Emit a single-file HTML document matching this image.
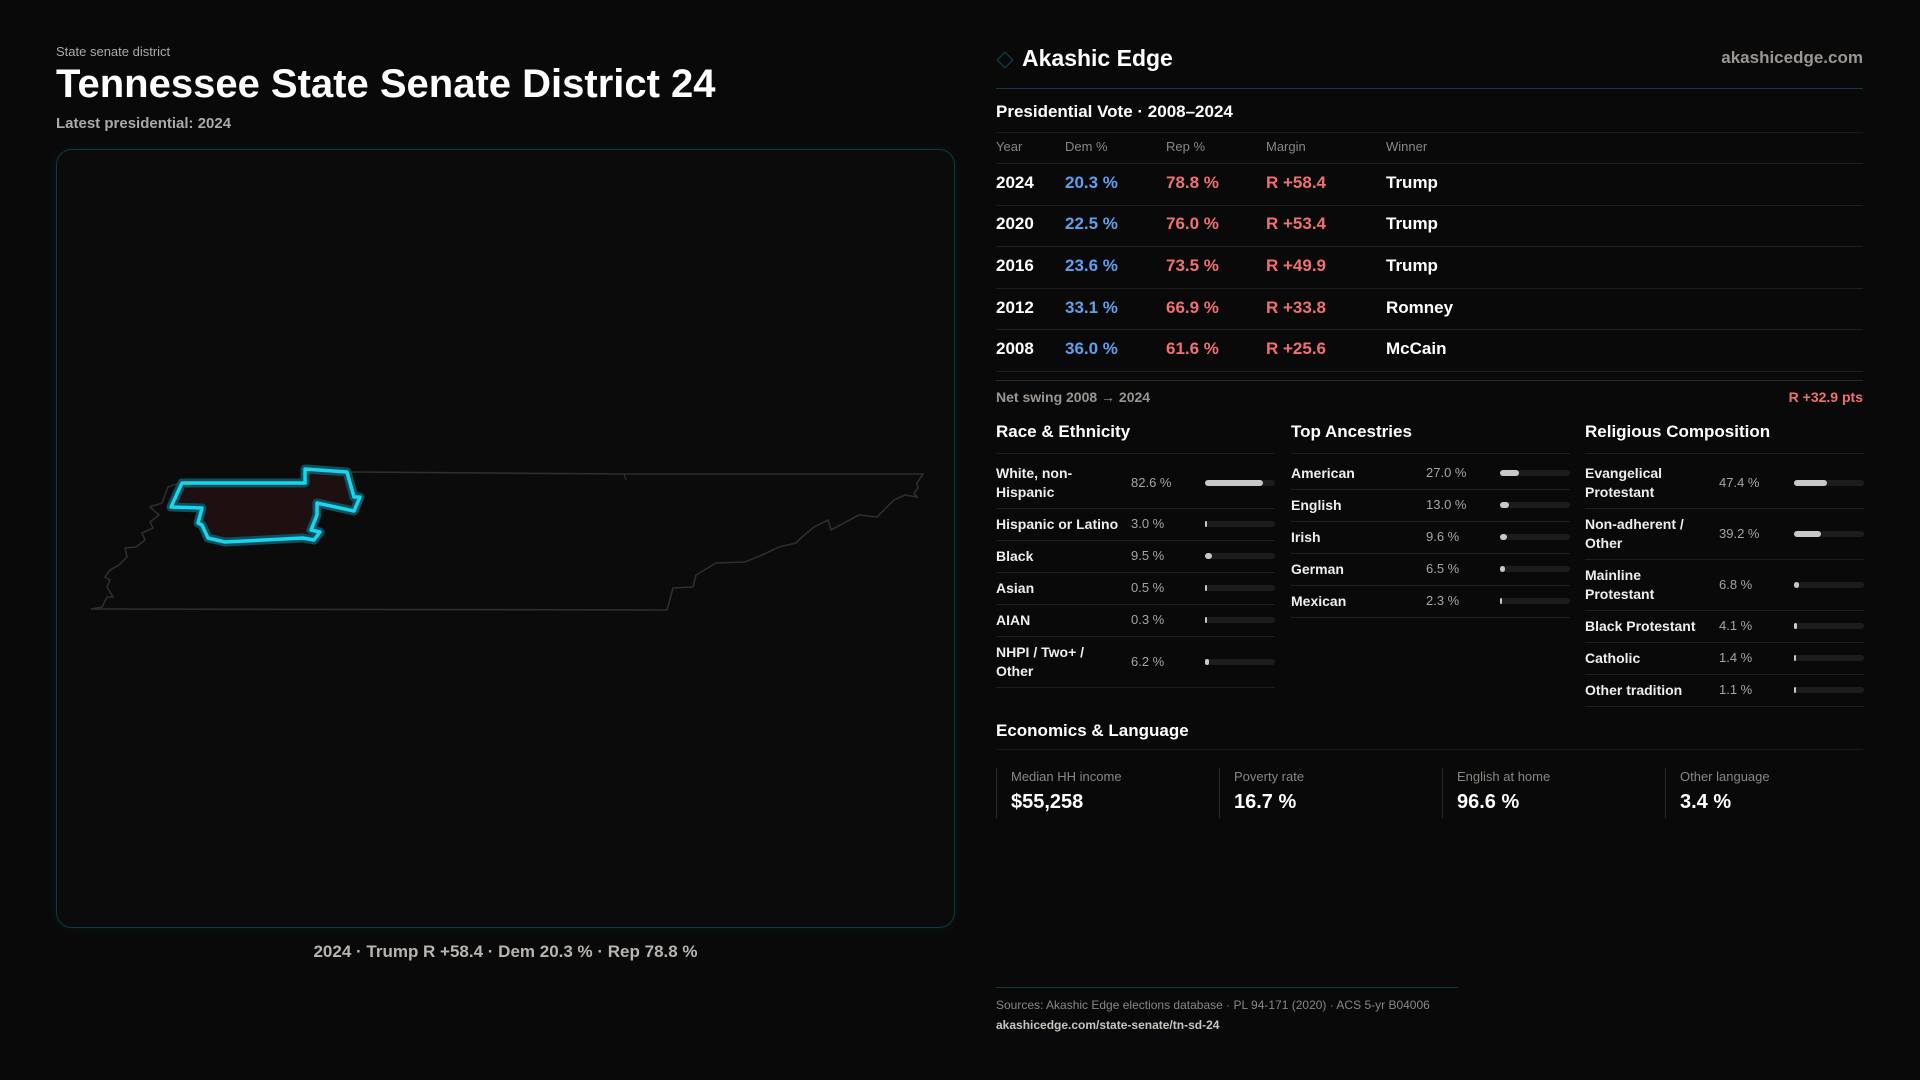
<!DOCTYPE html>
<html><head><meta charset="utf-8"><style>
*{margin:0;padding:0;box-sizing:border-box}
body{width:1920px;height:1080px;background:#0a0909;font-family:"Liberation Sans",sans-serif;color:#f0f0f0;position:relative;overflow:hidden}
.a{position:absolute;white-space:nowrap}
.hl{position:absolute;height:1px;background:#222}
.lbl{font-size:14px;font-weight:bold;color:#eee;line-height:19px}
.val{font-size:13px;color:#a8a4a0}
.track{position:absolute;height:6px;background:#1c1c1e;border-radius:3px}
.fill{position:absolute;left:0;top:0;height:6px;background:#c8c8c8;border-radius:3px}
</style></head><body>
<div class="a" style="left:56px;top:44px;font-size:13px;color:#aaa">State senate district</div>
<div class="a" style="left:56px;top:62px;font-size:40px;font-weight:bold;color:#fff">Tennessee State Senate District 24</div>
<div class="a" style="left:56px;top:115px;font-size:15px;font-weight:bold;color:#aaa">Latest presidential: 2024</div>

<div class="a" style="left:56px;top:149px;width:899px;height:779px;border:1px solid #0f3b42;border-radius:16px;background:#0c0b0b;box-shadow:0 0 10px rgba(0,200,230,0.08)"></div>
<svg class="a" style="left:0;top:0" width="960" height="940">
<polyline fill="none" stroke="#2e2e2e" stroke-width="1.6" points="182,483 173,485 168,487 162,503 150,507 159,515 150,522 153,528 142,533 145,540 136,547 125,548 127,557 119,565 110,570 105,577 110,580 107,587 113,597 107,597 102,607 91,609 667,610 673,588 693,587 696,575 716,563 745,562 762,555 779,547 796,543 802,537 814,527 828,520 831,530 859,515 877,517 894,500 905,495 917,497 914,493 918,488 917,483 923,474 624,474 351,472"/>
<line x1="624" y1="474" x2="626" y2="480" stroke="#2e2e2e" stroke-width="1.4"/>
<polygon fill="#1e1010" stroke="#0d4f5a" stroke-width="9" stroke-linejoin="round" points="182,483 305,483 305,469 347,472 354,497 360,497 354,511 317,503 317,515 311,530 320,532 314,540 303,538 225,542 208,538 202,525 198,523 202,508 171,507"/>
<polygon fill="none" stroke="#19d6f0" stroke-width="3.5" stroke-linejoin="round" points="182,483 305,483 305,469 347,472 354,497 360,497 354,511 317,503 317,515 311,530 320,532 314,540 303,538 225,542 208,538 202,525 198,523 202,508 171,507"/>
</svg>
<div class="a" style="left:56px;width:899px;text-align:center;top:942px;font-size:17px;font-weight:bold;color:#b8b4b0">2024 · Trump R +58.4 · Dem 20.3 % · Rep 78.8 %</div>

<div class="a" style="left:999px;top:54px;width:12px;height:12px;border:1.5px solid #0d4f5a;transform:rotate(45deg)"></div>
<div class="a" style="left:1022px;top:45px;font-size:23px;font-weight:bold;color:#fff">Akashic Edge</div>
<div class="a" style="right:57px;top:48px;font-size:17px;font-weight:bold;color:#9a9692">akashicedge.com</div>
<div class="hl" style="left:996px;width:867px;top:88px;background:#0f3b42"></div>

<div class="a" style="left:996px;top:102px;font-size:17px;font-weight:bold;color:#fff">Presidential Vote · 2008–2024</div>
<div class="hl" style="left:996px;width:867px;top:132px;background:#1a1a1a"></div>
<div id="vtable"></div>
<div class="hl" style="left:996px;width:867px;top:380px;background:#2a2a2a"></div>
<div class="a" style="left:996px;top:389px;font-size:14px;font-weight:bold;color:#9a9692">Net swing 2008 → 2024</div>
<div class="a" style="right:57px;top:389px;font-size:14px;font-weight:bold;color:#f07070">R +32.9 pts</div>

<div id="sections"></div>

<div class="a" style="left:996px;top:721px;font-size:17px;font-weight:bold;color:#fff">Economics &amp; Language</div>
<div class="hl" style="left:996px;width:867px;top:749px;background:#1a1a1a"></div>
<div id="econ"></div>

<div class="hl" style="left:996px;width:462px;top:987px;background:#0f3b42"></div>
<div class="a" style="left:996px;top:998px;font-size:12px;color:#8a8682">Sources: Akashic Edge elections database · PL 94-171 (2020) · ACS 5-yr B04006</div>
<div class="a" style="left:996px;top:1018px;font-size:12px;font-weight:bold;color:#c8c4c0">akashicedge.com/state-senate/tn-sd-24</div>

<script>
const years=["2024","2020","2016","2012","2008"];
const demPct=[20.3,22.5,23.6,33.1,36.0];
const repPct=[78.8,76.0,73.5,66.9,61.6];
const margins=[58.4,53.4,49.9,33.8,25.6];
const winners=["Trump","Trump","Trump","Romney","McCain"];
const raceLabels=["White, non-\nHispanic","Hispanic or Latino","Black","Asian","AIAN","NHPI / Two+ /\nOther"];
const raceValues=[82.6,3.0,9.5,0.5,0.3,6.2];
const ancLabels=["American","English","Irish","German","Mexican"];
const ancValues=[27.0,13.0,9.6,6.5,2.3];
const relLabels=["Evangelical\nProtestant","Non-adherent /\nOther","Mainline\nProtestant","Black Protestant","Catholic","Other tradition"];
const relValues=[47.4,39.2,6.8,4.1,1.4,1.1];
const econLabels=["Median HH income","Poverty rate","English at home","Other language"];
const econValues=["$55,258","16.7 %","96.6 %","3.4 %"];

function mk(parent,cls,style,text){const d=document.createElement('div');d.className=cls;d.style.cssText=style;if(text!=null)d.textContent=text;parent.appendChild(d);return d;}
const vt=document.getElementById('vtable');
const colX=[996,1065,1166,1266,1386];
["Year","Dem %","Rep %","Margin","Winner"].forEach((h,i)=>{
  const e=mk(vt,'a',`left:${colX[i]}px;top:139px;font-size:13px;color:#8a8682`,h);
  
  
});
mk(vt,'hl','left:996px;width:867px;top:163px;background:#1e1e1e');
const rowH=41.6;
years.forEach((y,i)=>{
  const top=163+i*rowH;
  const cy=top+rowH/2-11;
  const cells=[[y,'#fff'],[demPct[i].toFixed(1)+' %','#5aa2f0'],[repPct[i].toFixed(1)+' %','#f07070'],['R +'+margins[i].toFixed(1),'#f07070'],[winners[i],'#fff']];
  const names=['year-cell','dem-cell','rep-cell','margin-cell','winner-cell'];
  cells.forEach((c,j)=>{
    const e=mk(vt,'a',`left:${colX[j]}px;top:${cy}px;font-size:17px;font-weight:bold;color:${c[1]}`,c[0]);
    
    
  });
  mk(vt,'hl',`left:996px;width:867px;top:${top+rowH}px;background:#1e1e1e`);
});

const sec=document.getElementById('sections');
function section(title,labels,values,x,w,valX,barX,name){
  const t=mk(sec,'a',`left:${x}px;top:422px;font-size:17px;font-weight:bold;color:#fff`,title);
  
  
  mk(sec,'hl',`left:${x}px;width:${w}px;top:453px;background:#1e1e1e`);
  let top=457;
  labels.forEach((l,i)=>{
    const two=l.includes('\n');
    const h=two?51:32;
    const cy=top+h/2;
    const le=mk(sec,'a lbl',`left:${x}px;top:${cy-(two?19:9.5)}px;white-space:pre`,l);
    
    
    const ve=mk(sec,'a val',`left:${valX}px;top:${cy-8}px`,values[i].toFixed(1)+' %');
    
    
    const tr=mk(sec,'track',`left:${barX}px;top:${cy-3}px;width:${x+w-barX}px`);
    
    
    const fw=Math.max(2,(x+w-barX)*values[i]/100);
    const f=mk(tr,'fill',`width:${fw}px`);
    
    
    top+=h;
    mk(sec,'hl',`left:${x}px;width:${w}px;top:${top}px;background:#1e1e1e`);
  });
}
section("Race & Ethnicity",raceLabels,raceValues,996,279,1131,1205,'race');
section("Top Ancestries",ancLabels,ancValues,1291,279,1426,1500,'ancestry');
section("Religious Composition",relLabels,relValues,1585,279,1719,1794,'religion');

const ec=document.getElementById('econ');
econLabels.forEach((l,i)=>{
  const x=996+i*223;
  const card=mk(ec,'a',`left:${x}px;top:768px;width:223px;height:50px;border-left:1px solid #2a2a2a`);
  
  
  const le=mk(ec,'a',`left:${x+15}px;top:769px;font-size:13px;color:#8a8682`,l);
  
  
  const ve=mk(ec,'a',`left:${x+15}px;top:791px;font-size:20px;font-weight:bold;color:#fff`,econValues[i]);
  
  
});
</script>
</body></html>
